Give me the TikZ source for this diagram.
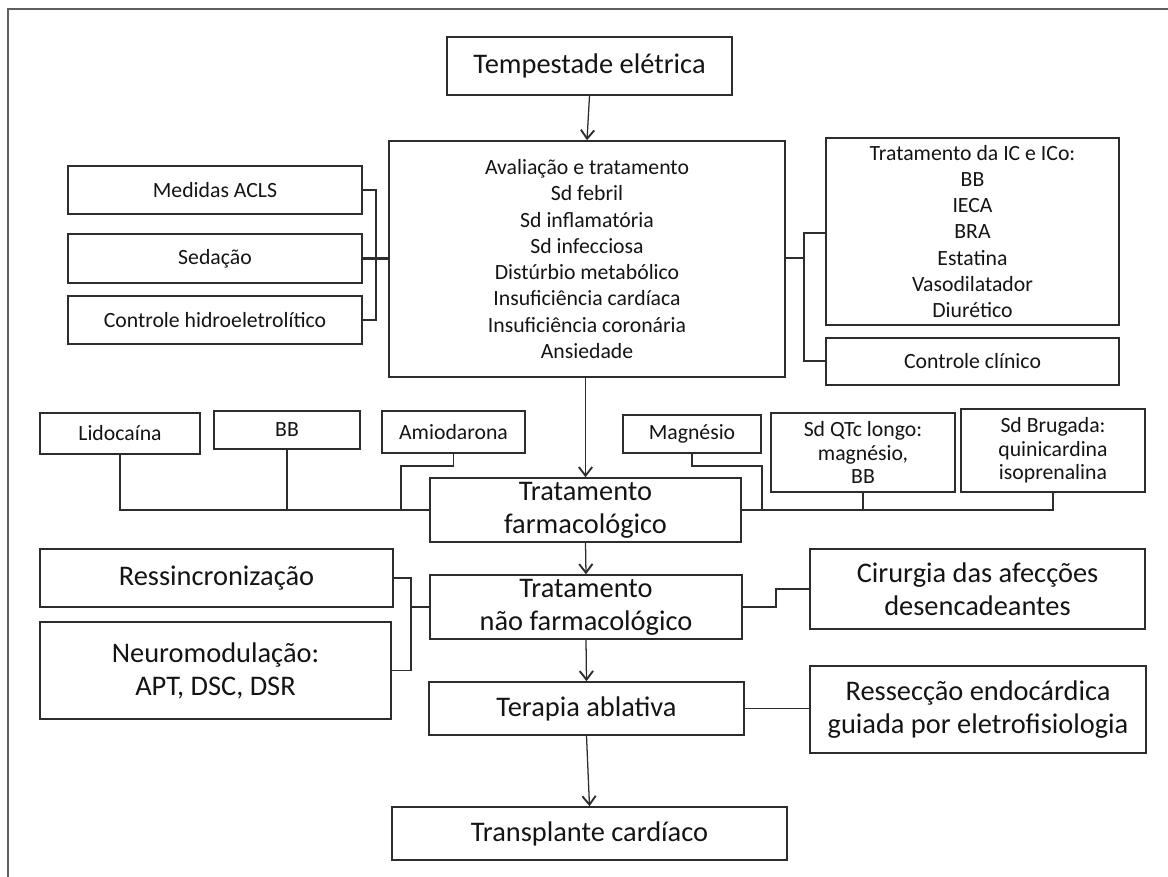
\documentclass[tikz,border=0pt]{standalone}
\usepackage{fontspec}
\setmainfont{Carlito}
\usetikzlibrary{arrows.meta}
\definecolor{ln}{RGB}{45,45,45}
\definecolor{frm}{RGB}{95,95,95}
\definecolor{tx}{RGB}{20,20,20}
\begin{document}
\begin{tikzpicture}[x=0.75pt,y=-0.75pt,
  box/.style={draw=ln, line width=1.15pt, inner sep=0pt, align=center, text=tx},
  rect/.style args={#1/#2/#3/#4}{minimum width={(#3-#1)*0.75pt}, minimum height={(#4-#2)*0.75pt}, at={({(#1+#3)/2},{(#2+#4)/2})}},
  sm/.style={font=\fontsize{16.3}{19.7}\selectfont},
  bg/.style={font=\fontsize{21.3}{24.75}\selectfont},
  tight/.style={font=\fontsize{16.3}{17.6}\selectfont},
  conn/.style={draw=ln, line width=0.95pt},
  heavy/.style={draw=ln, line width=1.7pt},
  arr/.style={conn, -{Straight Barb[length=6.5pt,width=10pt,line width=1.4pt]}}]
\useasboundingbox (0,0) rectangle (1168,877);
\draw[frm, line width=1.2pt] (8,877) -- (8,9) -- (1168,9);

% nodes
\node[box, bg, rect=447/37/732/95] (tempest) {Tempestade elétrica};
\node[box, sm, rect=389/141/785/377] (mid) {Avaliação e tratamento\\Sd febril\\Sd inflamatória\\Sd infecciosa\\Distúrbio metabólico\\Insuficiência cardíaca\\Insuficiência coronária\\Ansiedade};
\node[box, sm, rect=68/166/362/214] (acls) {Medidas ACLS};
\node[box, sm, rect=68/234/362/283] (sed) {Sedação};
\node[box, sm, rect=68/296/362/344] (hidro) {Controle hidroeletrolítico};
\node[box, sm, rect=826/138/1119/325] (ic) {Tratamento da IC e ICo:\\BB\\IECA\\BRA\\Estatina\\Vasodilatador\\Diurético};
\node[box, sm, rect=826/338/1119/385] (clin) {Controle clínico};

\node[box, sm, rect=40/413/200/454] (lido) {Lidocaína};
\node[box, sm, rect=214/411/360/449] (bb) {BB};
\node[box, sm, rect=382/411/525/453] (amio) {Amiodarona};
\node[box, bg, rect=430/478/741/542] (farm) {Tratamento\\farmacológico};
\node[box, sm, rect=623/415/761/453] (mag) {Magnésio};
\node[box, tight, rect=771/413/955/492] (qtc) {Sd QTc longo:\\magnésio,\\BB};
\node[box, tight, rect=961/409/1145/492] (brug) {Sd Brugada:\\quinicardina\\isoprenalina};

\node[box, bg, rect=40/549/393/607] (ressinc) {Ressincronização};
\node[box, bg, rect=40/622/391/719] (neuro) {Neuromodulação:\\APT, DSC, DSR};
\node[box, bg, rect=430/575/742/639] (naofarm) {Tratamento\\não farmacológico};
\node[box, bg, rect=810/549/1145/629] (cirurg) {Cirurgia das afecções\\desencadeantes};
\node[box, bg, rect=429/682/744/735] (terapia) {Terapia ablativa};
\node[box, bg, rect=810/666/1146/753] (ressec) {Ressecção endocárdica\\guiada por eletrofisiologia};
\node[box, bg, rect=392/807/787/860] (transpl) {Transplante cardíaco};

% coordinates for bends
\coordinate (lbar) at (376,258);
\coordinate (rbar) at (804,258);
\coordinate (amiok) at (401,466);
\coordinate (magk) at (762,466);
\coordinate (nbar) at (411,607);
\coordinate (cstep) at (776,589);

% main arrows
\draw[arr] (tempest.south) -- (mid.north);
\draw[arr] (mid.south -| farm.north) -- (farm.north);
\draw[arr] (farm.south) -- (naofarm.north);
\draw[arr] (naofarm.south) -- (terapia.north);
\draw[arr] (terapia.south) -- (transpl.north);

% left group
\draw[conn] (acls.east) -| (lbar) |- (hidro.east);
\draw[heavy] (sed.east) -- (mid.west |- sed.east);
% right group
\draw[heavy] (mid.east |- rbar) -- (rbar);
\draw[conn] (ic.west |- 0,233) -| (rbar) |- (clin.west |- 0,361);

% drug row left
\draw[conn] (lido.south) |- (farm.west);
\draw[conn] (bb.south) -- (bb.south |- farm.west);
\draw[conn] (amio.south) |- (amiok) -- (amiok |- farm.west);
% drug row right
\draw[conn] (brug.south) |- (farm.east);
\draw[conn] (qtc.south) -- (qtc.south |- farm.east);
\draw[conn] (mag.south) |- (magk) -- (magk |- farm.east);

% non-pharmacological
\draw[conn] (ressinc.east) -| (nbar) |- (neuro.east);
\draw[heavy] (nbar) -- (naofarm.west);
\draw[conn] (naofarm.east) -| (cstep) -- (cirurg.west);
\draw[conn] (terapia.east) -- (ressec.west |- terapia.east);
\end{tikzpicture}
\end{document}
